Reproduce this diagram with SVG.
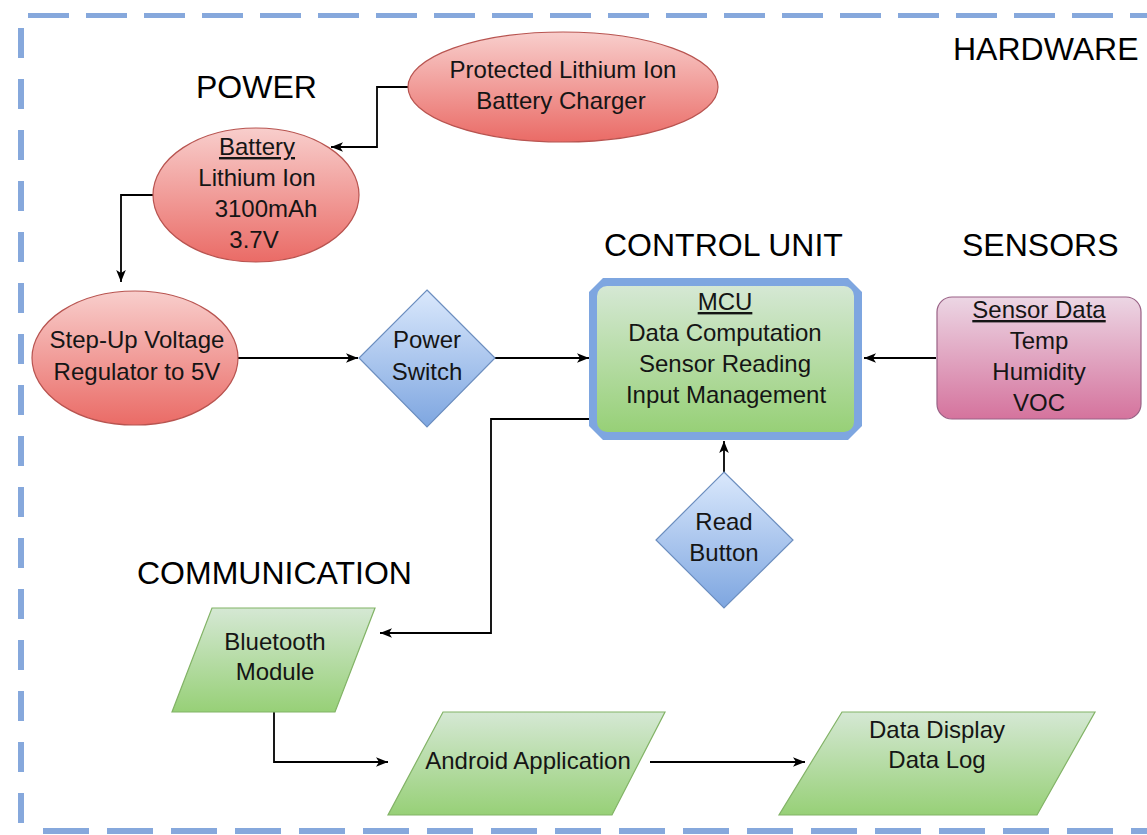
<svg xmlns="http://www.w3.org/2000/svg" width="1147" height="835" viewBox="0 0 1147 835">
  <defs>
    <linearGradient id="gRed" x1="0" y1="0" x2="0" y2="1">
      <stop offset="0" stop-color="#f8cecc"/>
      <stop offset="1" stop-color="#ea6b66"/>
    </linearGradient>
    <linearGradient id="gBlue" x1="0" y1="0" x2="0" y2="1">
      <stop offset="0" stop-color="#dae8fc"/>
      <stop offset="1" stop-color="#7ea6e0"/>
    </linearGradient>
    <linearGradient id="gGreen" x1="0" y1="0" x2="0" y2="1">
      <stop offset="0" stop-color="#d5e8d4"/>
      <stop offset="1" stop-color="#97d077"/>
    </linearGradient>
    <linearGradient id="gPink" x1="0" y1="0" x2="0" y2="1">
      <stop offset="0" stop-color="#ecd6e4"/>
      <stop offset="1" stop-color="#d5739d"/>
    </linearGradient>
    <marker id="arrow" viewBox="0 0 10 10" refX="10" refY="5" markerWidth="12" markerHeight="12" markerUnits="userSpaceOnUse" orient="auto">
      <path d="M0,1 L10,5 L0,9 L2.5,5 Z" fill="#000"/>
    </marker>
    <style>
      text { font-family: "Liberation Sans", Arial, sans-serif; fill: #151515; }
      .lbl { font-size: 24px; text-anchor: middle; }
      .head { font-size: 32px; fill: #000; }
      .u { text-decoration: underline; }
      .red { fill: url(#gRed); stroke: #b85450; stroke-width: 1.2; }
      .blue { fill: url(#gBlue); stroke: #6c8ebf; stroke-width: 1.2; }
      .green { fill: url(#gGreen); stroke: #82b366; stroke-width: 1.2; }
      .pink { fill: url(#gPink); stroke: #996185; stroke-width: 1.2; }
      .border { fill: none; stroke: #86a8dc; }
      .edge { fill: none; stroke: #000; stroke-width: 1.8; marker-end: url(#arrow); }
    </style>
  </defs>

  <rect width="1147" height="835" fill="#fff"/>

  <!-- dashed hardware frame -->
  <g id="frame">
    <line class="border" x1="28" y1="15.5" x2="1147" y2="15.5" stroke-width="5" stroke-dasharray="41 17"/>
    <line class="border" x1="21" y1="28" x2="21" y2="833" stroke-width="6" stroke-dasharray="30 21"/>
    <line class="border" x1="43" y1="831" x2="1147" y2="831" stroke-width="6" stroke-dasharray="46 18"/>
  </g>

  <!-- section headings -->
  <g id="headings">
    <text class="head" x="953" y="60">HARDWARE</text>
    <text class="head" x="196" y="98">POWER</text>
    <text class="head" x="604" y="256">CONTROL UNIT</text>
    <text class="head" x="962" y="256">SENSORS</text>
    <text class="head" x="137" y="584">COMMUNICATION</text>
  </g>

  <!-- connectors -->
  <g id="connectors">
    <path class="edge" d="M408,87 H377 V147 H331"/>
    <path class="edge" d="M154,195 H121 V282"/>
    <path class="edge" d="M238,358 H358"/>
    <path class="edge" d="M495,358 H589"/>
    <path class="edge" d="M936,358 H864"/>
    <path class="edge" d="M724,472 V441"/>
    <path class="edge" d="M589,419 H491 V633 H380"/>
    <path class="edge" d="M274,712 V762 H388"/>
    <path class="edge" d="M650,762 H805"/>
  </g>

  <!-- power -->
  <g id="charger">
    <ellipse class="red" cx="563" cy="87" rx="155" ry="55"/>
    <text class="lbl" x="563" y="78">Protected Lithium Ion</text>
    <text class="lbl" x="561" y="109">Battery Charger</text>
  </g>

  <g id="battery">
    <ellipse class="red" cx="256" cy="195" rx="103" ry="67"/>
    <text class="lbl u" x="257" y="155">Battery</text>
    <text class="lbl" x="257" y="186">Lithium Ion</text>
    <text class="lbl" x="266" y="217">3100mAh</text>
    <text class="lbl" x="254" y="248">3.7V</text>
  </g>

  <g id="regulator">
    <ellipse class="red" cx="135" cy="358" rx="103" ry="67"/>
    <text class="lbl" x="137" y="348">Step-Up Voltage</text>
    <text class="lbl" x="137" y="380">Regulator to 5V</text>
  </g>

  <g id="power-switch">
    <polygon class="blue" points="427,290 495,358 427,427 359,358"/>
    <text class="lbl" x="427" y="348">Power</text>
    <text class="lbl" x="427" y="380">Switch</text>
  </g>

  <!-- control unit -->
  <g id="mcu">
    <path d="M603,278 H848 L862,292 V426 L848,440 H603 L589,426 V292 Z" fill="#7ea6e0"/>
    <rect x="597" y="286" width="257" height="146" rx="10" fill="url(#gGreen)"/>
    <text class="lbl u" x="725" y="310">MCU</text>
    <text class="lbl" x="725" y="341">Data Computation</text>
    <text class="lbl" x="725" y="372">Sensor Reading</text>
    <text class="lbl" x="726" y="403">Input Management</text>
  </g>

  <g id="read-button">
    <polygon class="blue" points="724,472 793,540 724,608 656,540"/>
    <text class="lbl" x="724" y="530">Read</text>
    <text class="lbl" x="724" y="561">Button</text>
  </g>

  <!-- sensors -->
  <g id="sensor-data">
    <rect class="pink" x="937" y="297" width="204" height="122" rx="15"/>
    <text class="lbl u" x="1039" y="318">Sensor Data</text>
    <text class="lbl" x="1039" y="349">Temp</text>
    <text class="lbl" x="1039" y="380">Humidity</text>
    <text class="lbl" x="1039" y="411">VOC</text>
  </g>

  <!-- communication -->
  <g id="bluetooth">
    <polygon class="green" points="212,608 375,608 335,712 172,712"/>
    <text class="lbl" x="275" y="650">Bluetooth</text>
    <text class="lbl" x="275" y="680">Module</text>
  </g>

  <g id="android-app">
    <polygon class="green" points="443,712 665,712 612,815 388,815"/>
    <text class="lbl" x="528" y="769">Android Application</text>
  </g>

  <g id="data-display">
    <polygon class="green" points="842,712 1095,712 1037,815 779,815"/>
    <text class="lbl" x="937" y="738">Data Display</text>
    <text class="lbl" x="937" y="768">Data Log</text>
  </g>
</svg>
